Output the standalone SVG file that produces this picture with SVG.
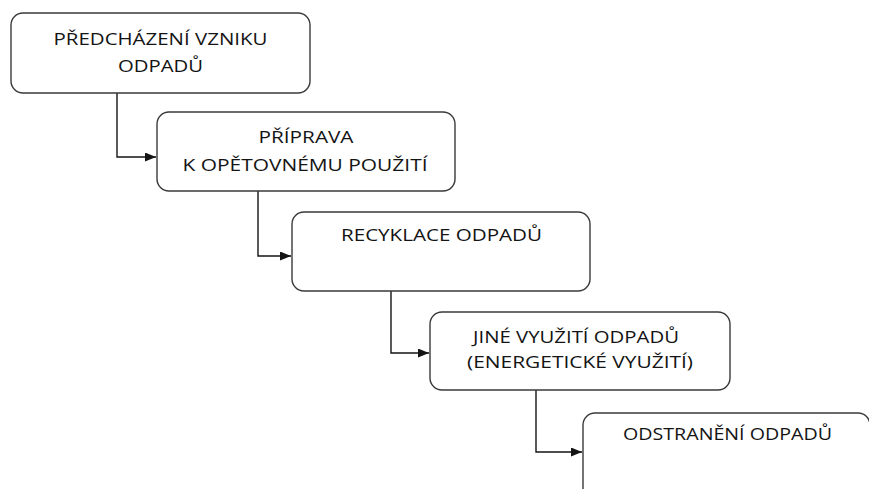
<svg xmlns="http://www.w3.org/2000/svg" width="869" height="489" viewBox="0 0 869 489">
<style>
.box{fill:#ffffff;stroke:#3a3a3a;stroke-width:1.4}
.t{font-family:"Open Sans","Liberation Sans",sans-serif;font-size:17px;fill:#141414;text-anchor:middle}
.c{fill:none;stroke:#141414;stroke-width:1.4}
</style>
<defs>
<marker id="ah" markerWidth="11" markerHeight="9" refX="11" refY="4.5" orient="auto" markerUnits="userSpaceOnUse">
<path d="M0,0 L11,4.5 L0,9 Z" fill="#141414"/>
</marker>
</defs>
<rect width="869" height="489" fill="#ffffff"/>
<g id="connectors">
<path class="c" d="M117,93 V157 H156" marker-end="url(#ah)"/>
<path class="c" d="M258,191 V256 H291" marker-end="url(#ah)"/>
<path class="c" d="M391,291 V353 H429" marker-end="url(#ah)"/>
<path class="c" d="M536,390 V452 H582" marker-end="url(#ah)"/>
</g>
<g id="n1">
<rect class="box" x="11" y="13" width="299" height="80" rx="12"/>
<text class="t" x="160.5" y="45" textLength="214" lengthAdjust="spacingAndGlyphs">PŘEDCHÁZENÍ VZNIKU</text>
<text class="t" x="160.5" y="72" textLength="85" lengthAdjust="spacingAndGlyphs">ODPADŮ</text>
</g>
<g id="n2">
<rect class="box" x="157" y="112" width="298" height="79" rx="12"/>
<text class="t" x="306" y="143" textLength="95" lengthAdjust="spacingAndGlyphs">PŘÍPRAVA</text>
<text class="t" x="305" y="171" textLength="245" lengthAdjust="spacingAndGlyphs">K OPĚTOVNÉMU POUŽITÍ</text>
</g>
<g id="n3">
<rect class="box" x="292" y="212" width="298" height="79" rx="12"/>
<text class="t" x="441.5" y="241" textLength="201" lengthAdjust="spacingAndGlyphs">RECYKLACE ODPADŮ</text>
</g>
<g id="n4">
<rect class="box" x="430" y="312" width="300" height="78" rx="12"/>
<text class="t" x="576" y="343" textLength="206" lengthAdjust="spacingAndGlyphs">JINÉ VYUŽITÍ ODPADŮ</text>
<text class="t" x="580" y="368" textLength="226" lengthAdjust="spacingAndGlyphs">(ENERGETICKÉ VYUŽITÍ)</text>
</g>
<g id="n5">
<rect class="box" x="583" y="413" width="287" height="100" rx="12"/>
<text class="t" x="727.5" y="440" textLength="209" lengthAdjust="spacingAndGlyphs">ODSTRANĚNÍ ODPADŮ</text>
</g>
</svg>
